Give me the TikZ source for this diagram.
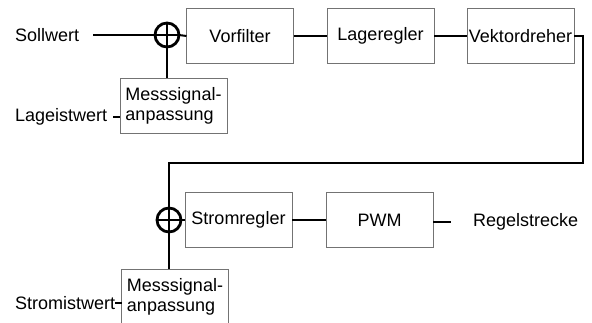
\documentclass[tikz,border=0pt]{standalone}
\usepackage{fontspec}
\setmainfont{Liberation Sans}
\begin{document}
\begin{tikzpicture}[x=1pt,y=-1pt,
  txt/.style={font=\fontsize{18}{20}\selectfont},
  blk/.style={txt,draw=black!55,line width=0.8pt,minimum width=107pt,
    minimum height=55pt,inner sep=0pt,outer sep=0pt},
  sum/.style={draw,circle,line width=2.8pt,minimum size=24pt,
    inner sep=0pt,outer sep=0pt},
  sig/.style={line width=2pt},
  lbl/.style={txt,anchor=west,inner sep=0pt}]
 \useasboundingbox (0,0) rectangle (592,322);
 \clip (0,0) rectangle (592,322);
 % blocks
 \foreach \n/\x/\y/\t in
  {
    vorfilter/240/36/Vorfilter, lageregler/380.5/36/Lageregler,
    vektor/520.5/36/Vektordreher, stromregler/238.5/220/Stromregler,
    pwm/379.5/220/PWM
  }
  {
    \node[blk] (\n) at (\x,\y) {\t};
  }
 \node[blk,align=left] (mess1) at (173.5,105.5) {Messsignal-\\anpassung};
 \node[blk,align=left] (mess2) at (175,296.5) {Messsignal-\\anpassung};
 % summing points
 \node[sum] (sum1) at (167,35) {};
 \node[sum] (sum2) at (169,220) {};
 \foreach \s in {sum1,sum2}
  {
    \draw[sig] (\s.north) -- (\s.south);
    \draw[sig] (\s.west) -- (\s.east);
  }
 % labels
 \node[lbl] (soll) at (15,35) {Sollwert};
 \node[lbl] (lageist) at (15,117) {Lageistwert};
 \node[lbl] (stromist) at (15,303) {Stromistwert};
 \node[lbl] (strecke) at (473,222) {Regelstrecke};
 \coordinate (sollend) at (93,35);
 \coordinate (lageend) at (113,117);
 \coordinate (pwmend) at (451,222);
 \coordinate (fbr) at (583,163);
 % signal lines
 \draw[sig] (sollend) -- (sum1.west);
 \draw[sig] (sum1.east) -- (vorfilter.west);
 \draw[sig] (vorfilter.east) -- (lageregler.west);
 \draw[sig] (lageregler.east) -- (vektor.west);
 \draw[sig] (sum1.south) -- (sum1.south |- mess1.north);
 \draw[sig] (lageend) -- (lageend -| mess1.west);
 \draw[sig] (vektor.east) -| (fbr) -| (sum2.north);
 \draw[sig] (sum2.east) -- (stromregler.west);
 \draw[sig] (stromregler.east) -- (pwm.west);
 \draw[sig] (pwm.east |- pwmend) -- (pwmend);
 \draw[sig] (sum2.south) -- (sum2.south |- mess2.north);
 \draw[sig] (stromist.east) -- (stromist.east -| mess2.west);
\end{tikzpicture}
\end{document}
